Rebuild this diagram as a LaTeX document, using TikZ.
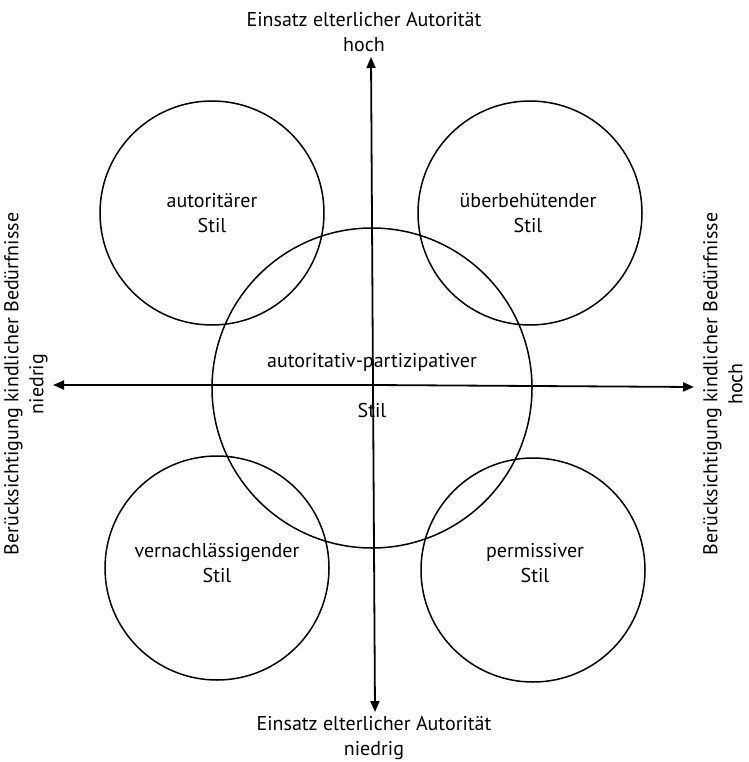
\documentclass[tikz,border=0pt]{standalone}
\usepackage{fontspec}
\setmainfont{PT Sans}
\usetikzlibrary{arrows.meta}
\begin{document}
\begin{tikzpicture}[x=1pt,y=-1pt,
  circ/.style={draw=black, line width=1.5pt, circle, minimum size=#1},
  axis/.style={line width=1.8pt, -{Triangle[length=11pt,width=9pt]}},
  lbl/.style={font=\fontsize{20}{25}\selectfont, align=center, inner sep=0pt},
  ax/.style={font=\fontsize{20}{25}\selectfont, align=center, inner sep=0pt}]
\useasboundingbox[fill=white] (0,0) rectangle (748,762);

% the five style circles
\node[circ=224pt] (tl) at (212,213) {};
\node[circ=224pt] (tr) at (530,213) {};
\node[circ=320pt] (cc) at (372,388) {};
\node[circ=224pt] (bl) at (217,568) {};
\node[circ=224pt] (br) at (533,570) {};

% axes
\coordinate (c) at (373,385);
\coordinate (up) at (371,57);
\coordinate (dn) at (375,712);
\coordinate (lf) at (53,385);
\coordinate (rt) at (694,387);
\draw[axis] (c) -- (up);
\draw[axis] (c) -- (dn);
\draw[axis] (c) -- (lf);
\draw[axis] (c) -- (rt);

% style labels
\node[lbl] (t1) at (212,213) {autoritärer\\Stil};
\node[lbl] (t2) at (528,213) {überbehütender\\Stil};
\node[lbl] (t3) at (372,362) {autoritativ-partizipativer};
\node[lbl] (t4) at (372,410) {Stil};
\node[lbl] (t5) at (217,563) {vernachlässigender\\Stil};
\node[lbl] (t6) at (535,563) {permissiver\\Stil};

% axis labels
\node[ax] (a1) at (364,32) {Einsatz elterlicher Autorität\\hoch};
\node[ax] (a2) at (374,738) {Einsatz elterlicher Autorität\\niedrig};
\node[ax, rotate=90] (a3) at (26,384) {Berücksichtigung kindlicher Bedürfnisse\\niedrig};
\node[ax, rotate=90] (a4) at (723,384) {Berücksichtigung kindlicher Bedürfnisse\\hoch};
\end{tikzpicture}
\end{document}
